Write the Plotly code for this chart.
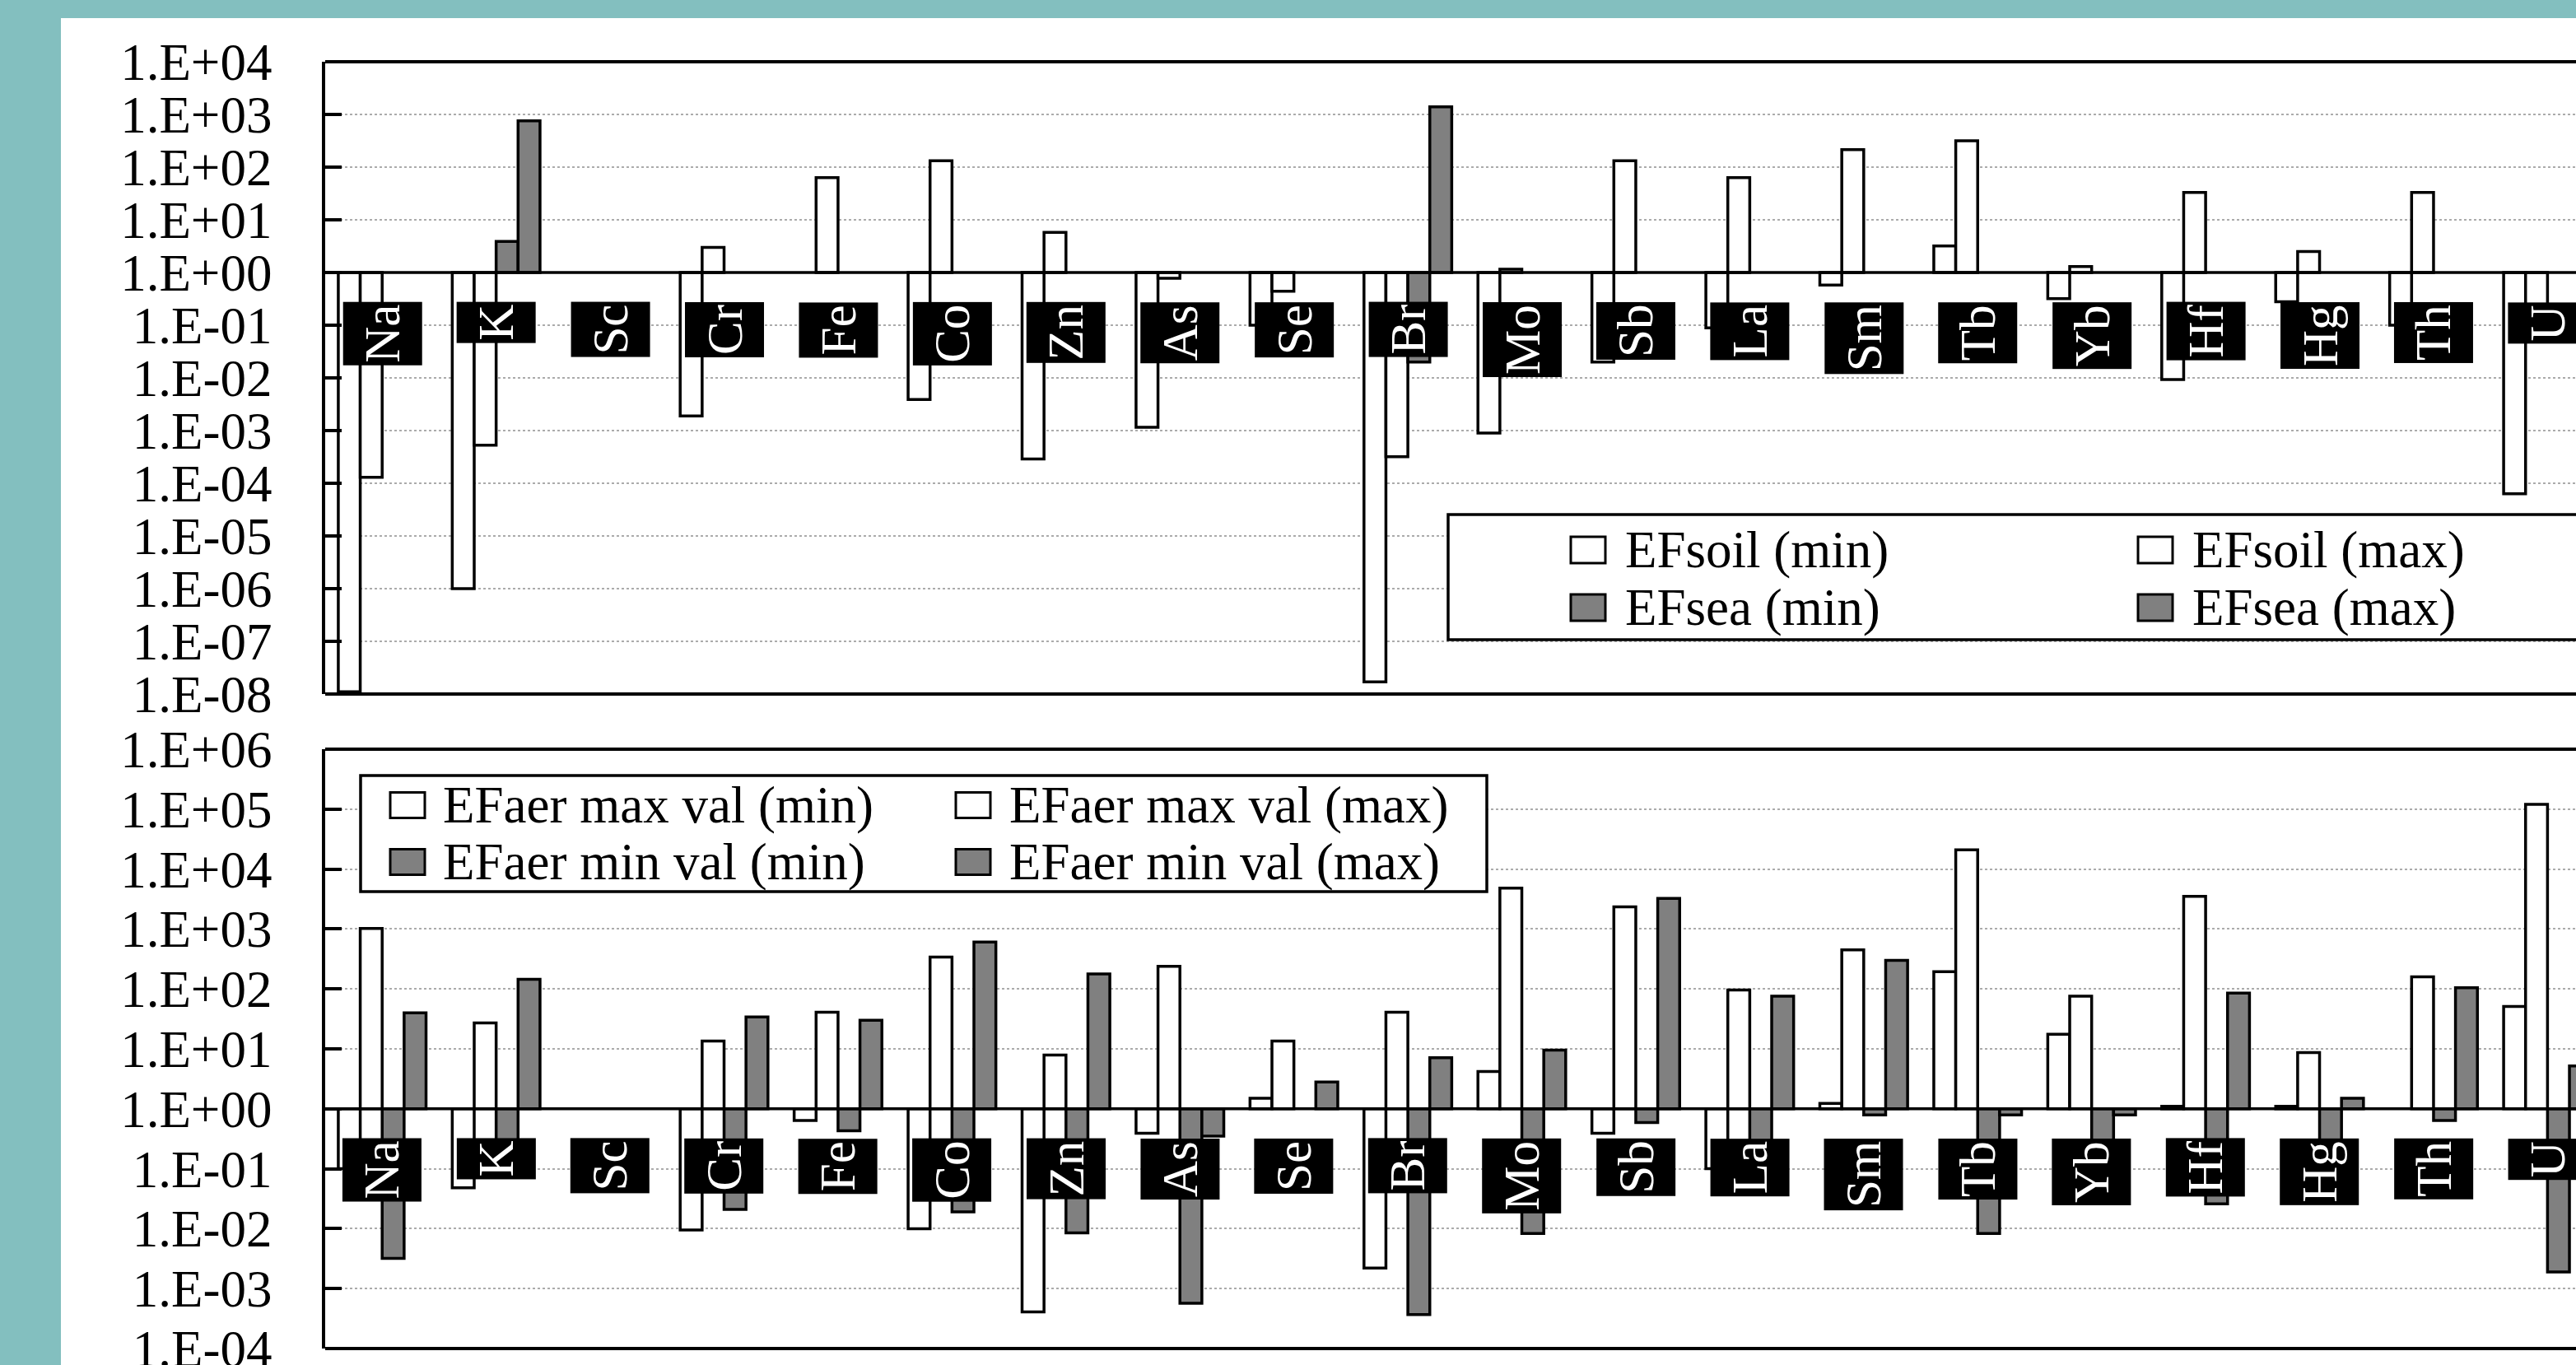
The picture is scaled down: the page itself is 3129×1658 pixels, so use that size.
import plotly.graph_objects as go

# ---------------- data ----------------
elements = ["Na", "K", "Sc", "Cr", "Fe", "Co", "Zn", "As", "Se", "Br",
            "Mo", "Sb", "La", "Sm", "Tb", "Yb", "Hf", "Hg", "Th", "U"]

# upper panel
ef_soil_min = [1.1e-8, 1.0e-6, None, 1.9e-3, None, 3.9e-3, 2.9e-4, 1.15e-3, 0.1, 1.7e-8,
               9.0e-4, 0.02, 0.089, 0.58, 3.2, 0.32, 9.3e-3, 0.28, 0.1, 6.3e-5]
ef_soil_max = [1.3e-4, 5.3e-4, None, 3.0, 63, 132, 5.8, 0.78, 0.44, 3.2e-4,
               1.15, 132, 63, 215, 316, 1.3, 33, 2.5, 33, 0.1]
ef_sea_min = [None, 3.9, None, None, None, None, None, None, None, 0.02,
              None, None, None, None, None, None, None, None, None, None]
ef_sea_max = [None, 760, None, None, None, None, None, None, None, 1400,
              None, None, None, None, None, None, None, None, None, None]

# lower panel
efaer_maxval_min = [0.1, 0.048, None, 9.5e-3, 0.64, 0.01, 4.1e-4, 0.39, 1.5, 2.2e-3,
                    4.2, 0.39, 0.1, 1.23, 194, 17.5, 1.1, 1.1, None, 51]
efaer_maxval_max = [1020, 27, None, 13.5, 41, 340, 7.9, 239, 13.5, 41,
                    4800, 2340, 96, 450, 2.1e4, 76, 3500, 8.7, 159, 1.2e5]
efaer_minval_min = [3.2e-3, 0.15, None, 0.021, 0.43, 0.019, 8.5e-3, 5.7e-4, None, 3.7e-4,
                    8.3e-3, 0.59, 0.15, 0.79, 8.3e-3, 0.12, 0.026, 0.15, 0.64, 1.9e-3]
efaer_minval_max = [40, 145, None, 34, 30, 605, 178, 0.35, 2.8, 7.1,
                    9.5, 3240, 76, 300, 0.79, 0.79, 85, 1.5, 105, 5.2]

top_ticks = list(range(-8, 5))
bot_ticks = list(range(-4, 7))

# ---------------- styling / layout ----------------
W, H = 3129, 1658
ML, MR, MT, MB = 395, 0, 75, 20
PW = W - ML - MR
PH = H - MT - MB

def px_x(p):
    return (p - ML) / PW

def px_y(p):
    return (H - MB - p) / PH

TEAL = "#83BFBF"
WHITE = "#FFFFFF"
GRAY = "#808080"
SERIF = "Liberation Serif"
LW = 3.5

fig = go.Figure()

def add_bars(vals, name, color, xa, ya):
    fig.add_trace(go.Bar(
        x=elements,
        y=[None if v is None else v - 1 for v in vals],
        base=1,
        name=name,
        marker=dict(color=color, line=dict(color="black", width=LW)),
        xaxis=xa, yaxis=ya, showlegend=False,
    ))

top_series = [(ef_soil_min, "EFsoil (min)", WHITE), (ef_soil_max, "EFsoil (max)", WHITE),
              (ef_sea_min, "EFsea (min)", GRAY), (ef_sea_max, "EFsea (max)", GRAY)]
bot_series = [(efaer_maxval_min, "EFaer max val (min)", WHITE),
              (efaer_maxval_max, "EFaer max val (max)", WHITE),
              (efaer_minval_min, "EFaer min val (min)", GRAY),
              (efaer_minval_max, "EFaer min val (max)", GRAY)]

for v, n, c in top_series:
    add_bars(v, n, c, "x", "y")
for v, n, c in bot_series:
    add_bars(v, n, c, "x2", "y2")

def fmt(k):
    return "1.E%+03d" % k

def yaxis_cfg(ticks, dom, anchor):
    return dict(
        type="log", range=[ticks[0], ticks[-1]], domain=dom, anchor=anchor,
        tickvals=[10.0 ** k for k in ticks], ticktext=[fmt(k) for k in ticks],
        ticks="inside", ticklen=20, tickwidth=4, tickcolor="black",
        showline=True, linewidth=4, linecolor="black",
        showgrid=True, gridcolor="#ABABAB", gridwidth=2, griddash="dot",
        zeroline=False, automargin=False, ticklabeloverflow="allow",
        tickfont=dict(family=SERIF, size=63, color="black"),
        ticklabelstandoff=48,
    )

def xaxis_cfg(anchor):
    return dict(type="category", range=[-0.5, 19.25], domain=[0, 1], anchor=anchor,
                showticklabels=False, showgrid=False, zeroline=False, showline=False,
                ticks="", automargin=False)

fig.update_layout(
    template="none",
    width=W, height=H,
    margin=dict(l=ML, r=MR, t=MT, b=MB, pad=0, autoexpand=False),
    paper_bgcolor=TEAL, plot_bgcolor=WHITE,
    barmode="group", bargap=0.23, bargroupgap=0,
    font=dict(family=SERIF, color="black"),
    xaxis=xaxis_cfg("y"),
    yaxis=yaxis_cfg(top_ticks, [px_y(843), px_y(75)], "x"),
    xaxis2=xaxis_cfg("y2"),
    yaxis2=yaxis_cfg(bot_ticks, [px_y(1638), px_y(910)], "x2"),
    showlegend=False,
)

shapes = []
# white panel
shapes.append(dict(type="rect", xref="paper", yref="paper",
                   x0=px_x(74), x1=px_x(3300), y0=px_y(1750), y1=px_y(22),
                   fillcolor=WHITE, line=dict(width=0), layer="below"))
# frames and baselines
for xr, yr, yd in (("x", "y", "y domain"), ("x2", "y2", "y2 domain")):
    for yy in (0, 1):
        shapes.append(dict(type="line", xref=xr + " domain", yref=yd,
                           x0=0, x1=1, y0=yy, y1=yy,
                           line=dict(color="black", width=4), layer="above"))
    shapes.append(dict(type="line", xref=xr + " domain", yref=yr,
                       x0=0, x1=1, y0=1, y1=1,
                       line=dict(color="black", width=3.5), layer="above"))

annotations = []
# category labels (white on black boxes)
for xr, yr in (("x", "y"), ("x2", "y2")):
    for el in elements:
        annotations.append(dict(
            x=el, y=0, xref=xr, yref=yr, text=el, showarrow=False,
            textangle=-90, xanchor="center", yanchor="top", yshift=-36,
            bgcolor="black", borderpad=3, borderwidth=0, height=90,
            font=dict(family=SERIF, size=61, color="white"),
        ))

# custom legends
def legend_block(series, box, marker_cx, text_x, row_cy, fsize, mw, mh):
    x0, y0, x1, y1 = box
    shapes.append(dict(type="rect", xref="paper", yref="paper",
                       x0=px_x(x0), x1=px_x(x1), y0=px_y(y1), y1=px_y(y0),
                       fillcolor=WHITE, line=dict(color="black", width=3.5),
                       layer="above"))
    for i, (_, name, color) in enumerate(series):
        r, c = divmod(i, 2)
        cx, cy = marker_cx[c], row_cy[r]
        shapes.append(dict(type="rect", xref="paper", yref="paper",
                           x0=px_x(cx - mw / 2), x1=px_x(cx + mw / 2),
                           y0=px_y(cy + mh / 2), y1=px_y(cy - mh / 2),
                           fillcolor=color, line=dict(color="black", width=3),
                           layer="above"))
        annotations.append(dict(x=px_x(text_x[c]), y=px_y(cy), xref="paper", yref="paper",
                                text=name, showarrow=False, xanchor="left",
                                yanchor="middle",
                                font=dict(family=SERIF, size=fsize, color="black")))

legend_block(top_series, (1759, 625, 3300, 777), (1929, 2618), (1972, 2661),
             (668, 738), 63, 42, 32)
legend_block(bot_series, (438, 942, 1806, 1083), (495, 1182), (536, 1224),
             (978, 1047), 63, 42, 31)

fig.update_layout(shapes=shapes, annotations=annotations)

fig.write_html("out.html",
               config={"displayModeBar": False},
               post_script="document.body.style.margin='0';"
                           "document.body.style.padding='0';"
                           "document.body.style.overflow='hidden';")
